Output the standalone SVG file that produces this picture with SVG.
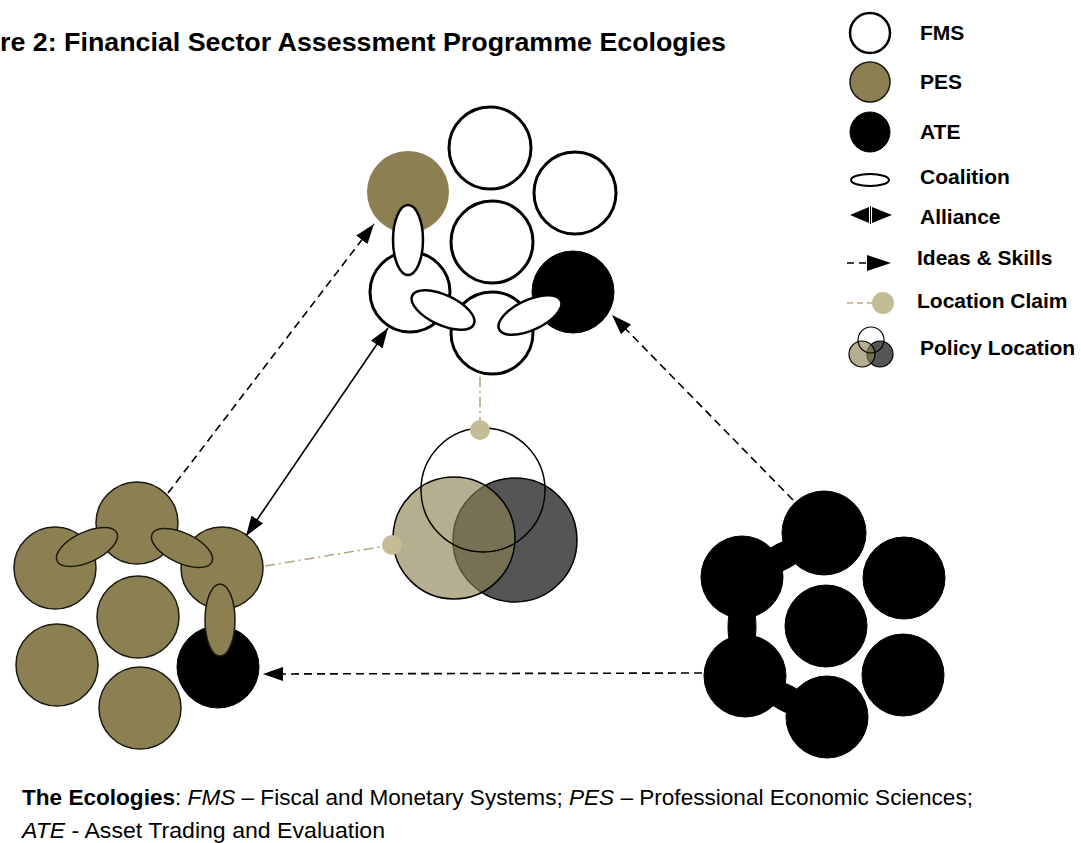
<svg xmlns="http://www.w3.org/2000/svg" width="1081" height="843" viewBox="0 0 1081 843">
<defs>
<style>
.fms{fill:#fff;stroke:#000;stroke-width:3}
.fmsE{fill:#fff;stroke:#000;stroke-width:2.5}
.pes{fill:#8c8052;stroke:#1a1a10;stroke-width:1.5}
.ate{fill:#000;stroke:#000;stroke-width:1}
.idea{fill:none;stroke:#000;stroke-width:1.6;stroke-dasharray:8 5}
.alli{fill:none;stroke:#000;stroke-width:1.6}
.claim{fill:none;stroke:#b5ab80;stroke-width:1.6;stroke-dasharray:10 4 2 4}
.dot{fill:#c4bc94}
.lbl{font-family:"Liberation Sans",Arial,sans-serif;font-weight:bold;font-size:21px;fill:#000}
.cap{font-family:"Liberation Sans",Arial,sans-serif;font-size:21.5px;fill:#000}
</style>
<marker id="ah" viewBox="0 0 20 14" refX="20" refY="7" markerWidth="20" markerHeight="14" markerUnits="userSpaceOnUse" orient="auto-start-reverse">
<path d="M0,0 L20,7 L0,14 Z" fill="#000"/>
</marker>
</defs>
<rect width="1081" height="843" fill="#fff"/>

<text x="0" y="51" class="lbl" style="font-size:26px" textLength="726" lengthAdjust="spacingAndGlyphs">re 2: Financial Sector Assessment Programme Ecologies</text>

<g id="connectors">
<line class="idea" x1="168" y1="493" x2="374" y2="224" marker-end="url(#ah)"/>
<line class="alli" x1="246" y1="536" x2="388" y2="328" marker-start="url(#ah)" marker-end="url(#ah)"/>
<line class="idea" x1="793" y1="500" x2="612" y2="315" marker-end="url(#ah)"/>
<line class="idea" x1="702" y1="673" x2="263" y2="674" marker-end="url(#ah)"/>
<line class="claim" x1="480" y1="377" x2="480" y2="425"/>
<line class="claim" x1="265" y1="566" x2="386" y2="546"/>
</g>

<g id="fms-ecology">
<circle class="fms" cx="490" cy="148" r="41"/>
<circle class="fms" cx="575" cy="193" r="41"/>
<circle class="fms" cx="492" cy="242" r="41"/>
<circle class="pes" cx="408" cy="192" r="41" style="stroke:none"/>
<circle class="fms" cx="410" cy="292" r="40"/>
<circle class="ate" cx="573" cy="292" r="41"/>
<circle class="fms" cx="492" cy="333" r="41"/>
<ellipse class="fmsE" cx="408" cy="240" rx="15" ry="35"/>
<ellipse class="fmsE" cx="443" cy="310" rx="34" ry="15" transform="rotate(25 443 310)"/>
<ellipse class="fmsE" cx="530" cy="315" rx="34" ry="15" transform="rotate(-25 530 315)"/>
</g>

<g id="pes-ecology">
<circle class="pes" cx="137" cy="523" r="41"/>
<circle class="pes" cx="55" cy="568" r="41"/>
<circle class="pes" cx="222" cy="568" r="41"/>
<circle class="pes" cx="138" cy="617" r="41"/>
<circle class="pes" cx="57" cy="665" r="41"/>
<circle class="pes" cx="140" cy="708" r="41"/>
<circle class="ate" cx="218" cy="667" r="41"/>
<ellipse class="pes" cx="87" cy="547" rx="33" ry="15" transform="rotate(-25 87 547)"/>
<ellipse class="pes" cx="182" cy="548" rx="33" ry="15" transform="rotate(25 182 548)"/>
<ellipse class="pes" cx="220" cy="620" rx="15" ry="36"/>
</g>

<g id="ate-ecology">
<ellipse class="ate" cx="783" cy="556" rx="30" ry="13" transform="rotate(-28 783 556)"/>
<ellipse class="ate" cx="742" cy="627" rx="14" ry="34"/>
<ellipse class="ate" cx="786" cy="698" rx="30" ry="13" transform="rotate(28 786 698)"/>
<circle class="ate" cx="824" cy="533" r="42"/>
<circle class="ate" cx="742" cy="577" r="41"/>
<circle class="ate" cx="904" cy="578" r="41"/>
<circle class="ate" cx="826" cy="626" r="41"/>
<circle class="ate" cx="745" cy="676" r="41"/>
<circle class="ate" cx="903" cy="675" r="41"/>
<circle class="ate" cx="827" cy="717" r="41"/>
</g>

<g id="policy-location">
<circle cx="483" cy="490" r="62" fill="#fff"/>
<circle cx="515" cy="540" r="62" fill="#555" stroke="#000" stroke-width="1.5"/>
<circle cx="454" cy="538" r="61" fill="#8c8052" fill-opacity="0.64" stroke="#000" stroke-width="1.5"/>
<circle cx="483" cy="490" r="62" fill="none" stroke="#000" stroke-width="1.5"/>
<circle class="dot" cx="480" cy="430" r="10"/>
<circle class="dot" cx="392" cy="545" r="10"/>
</g>

<g id="legend">
<circle class="fms" cx="870" cy="33" r="20" style="stroke-width:2.5"/>
<text class="lbl" x="920" y="40">FMS</text>
<circle class="pes" cx="870" cy="82" r="20"/>
<text class="lbl" x="920" y="89">PES</text>
<circle class="ate" cx="870" cy="132" r="20"/>
<text class="lbl" x="920" y="139">ATE</text>
<ellipse cx="870" cy="180" rx="19" ry="6" fill="#fff" stroke="#000" stroke-width="2"/>
<text class="lbl" x="920" y="184">Coalition</text>
<path d="M850,215 L869,207 L869,223 Z M892,215 L872,207 L872,223 Z" fill="#000"/>
<line x1="870.5" y1="206" x2="870.5" y2="224" stroke="#000" stroke-width="1"/>
<text class="lbl" x="920" y="224">Alliance</text>
<line x1="847" y1="263" x2="868" y2="263" stroke="#000" stroke-width="1.6" stroke-dasharray="7 5"/>
<path d="M867,255 L891,263 L867,271 Z" fill="#000"/>
<text class="lbl" x="917" y="265">Ideas &amp; Skills</text>
<line x1="847" y1="303" x2="872" y2="303" stroke="#b5ab80" stroke-width="1.6" stroke-dasharray="6 4"/>
<circle class="dot" cx="883" cy="303" r="11"/>
<text class="lbl" x="917" y="308">Location Claim</text>
<circle cx="871" cy="340" r="13" fill="#fff"/>
<circle cx="880" cy="354" r="13" fill="#555" stroke="#000" stroke-width="1.2"/>
<circle cx="862" cy="354" r="13" fill="#8c8052" fill-opacity="0.64" stroke="#000" stroke-width="1.2"/>
<circle cx="871" cy="340" r="13" fill="none" stroke="#000" stroke-width="1.2"/>
<text class="lbl" x="920" y="355">Policy Location</text>
</g>

<g id="caption">
<text class="cap" x="22" y="805" textLength="951" lengthAdjust="spacingAndGlyphs"><tspan font-weight="bold">The Ecologies</tspan>: <tspan font-style="italic">FMS</tspan> – Fiscal and Monetary Systems; <tspan font-style="italic">PES</tspan> – Professional Economic Sciences;</text>
<text class="cap" x="22" y="838" textLength="363" lengthAdjust="spacingAndGlyphs"><tspan font-style="italic">ATE</tspan> - Asset Trading and Evaluation</text>
</g>
</svg>
